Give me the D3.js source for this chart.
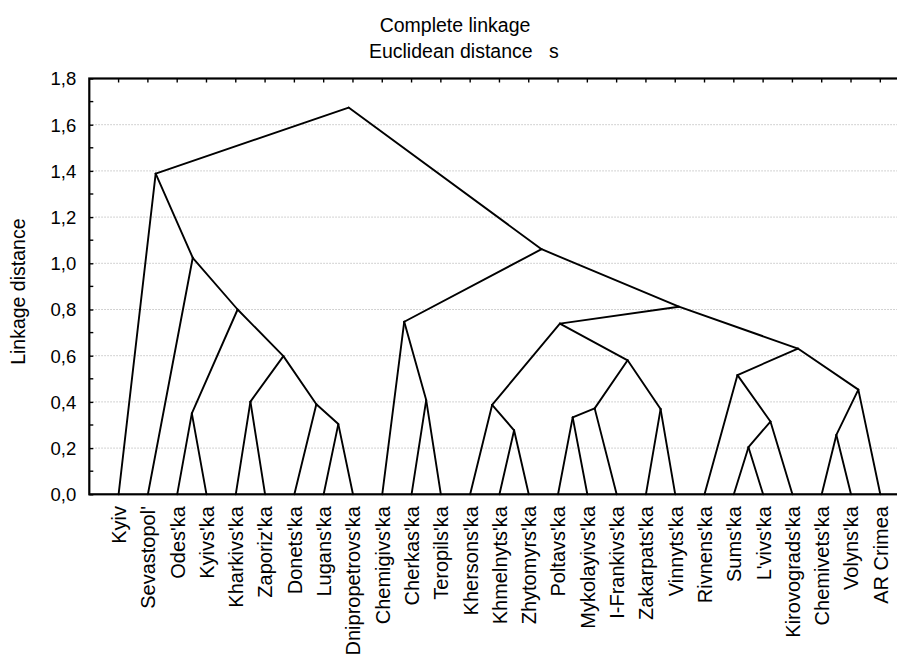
<!DOCTYPE html>
<html>
<head>
<meta charset="utf-8">
<script src="https://cdn.jsdelivr.net/npm/d3@7"></script>
<style>
    body { margin: 0; background: #fff; }
    svg { display: block; }
    text { font-family: "Liberation Sans", Arial, sans-serif; fill: #000; }
</style>
</head>
<body>
<div id="chart"></div>
<script>
/*global d3*/

// leaf order as drawn, left to right
const leaves = [
    "Kyiv", "Sevastopol'", "Odes'ka", "Kyivs'ka", "Kharkivs'ka", "Zaporiz'ka",
    "Donets'ka", "Lugans'ka", "Dnipropetrovs'ka", "Chemigivs'ka", "Cherkas'ka",
    "Teropils'ka", "Khersons'ka", "Khmelnyts'ka", "Zhytomyrs'ka", "Poltavs'ka",
    "Mykolayivs'ka", "I-Frankivs'ka", "Zakarpats'ka", "Vinnyts'ka", "Rivnens'ka",
    "Sums'ka", "L'vivs'ka", "Kirovograds'ka", "Chemivets'ka", "Volyns'ka", "AR Crimea"
];

// merges: [child a, child b, linkage distance]
// ids below 27 are leaves, 27 and up are earlier merges (27 = first row)
const merges = [
    [2, 3, 0.350],    // 27
    [4, 5, 0.401],    // 28
    [7, 8, 0.304],    // 29
    [6, 29, 0.390],   // 30
    [28, 30, 0.598],  // 31
    [27, 31, 0.800],  // 32
    [1, 32, 1.024],   // 33
    [0, 33, 1.388],   // 34
    [10, 11, 0.408],  // 35
    [9, 35, 0.747],   // 36
    [13, 14, 0.277],  // 37
    [12, 37, 0.387],  // 38
    [15, 16, 0.333],  // 39
    [39, 17, 0.372],  // 40
    [18, 19, 0.369],  // 41
    [40, 41, 0.580],  // 42
    [38, 42, 0.739],  // 43
    [21, 22, 0.204],  // 44
    [44, 23, 0.315],  // 45
    [20, 45, 0.516],  // 46
    [24, 25, 0.257],  // 47
    [47, 26, 0.453],  // 48
    [46, 48, 0.631],  // 49
    [43, 49, 0.812],  // 50
    [36, 50, 1.061],  // 51
    [34, 51, 1.674]   // 52
];

const yTicks = [0, 0.2, 0.4, 0.6, 0.8, 1.0, 1.2, 1.4, 1.6, 1.8];
const yMinor = [0.1, 0.3, 0.5, 0.7, 0.9, 1.1, 1.3, 1.5, 1.7];
const titleLines = ["Complete linkage", "Euclidean distance   s"];
const yTitle = "Linkage distance";


class Dendrogram {
    constructor(id) {
        this.id = id;
        this.init();
    }

    init() {
        this.initSvg();
        this.initScale();
        this.buildTree();
        this.drawGrid();
        this.drawLinks();
        this.drawAxes();
        this.drawTexts();
    }

    initSvg() {
        this.w = 897;
        this.h = 657;
        this.m = { left: 89.3, top: 78.5, bottom: 494.3, right: 909.6 };
        const div = d3.select(`#${this.id}`);
        div.selectAll("*").remove();
        this.svg = div.append("svg")
            .attr("width", this.w)
            .attr("height", this.h);
    }

    initScale() {
        // leaves sit at 1..n, one empty slot each side
        this.x = d3.scaleLinear()
            .domain([0, leaves.length + 1])
            .range([this.m.left, this.m.right]);
        this.y = d3.scaleLinear()
            .domain([0, 1.8])
            .range([this.m.bottom, this.m.top]);
    }

    buildTree() {
        this.nodes = leaves.map((name, i) => ({ name, pos: i + 1, h: 0 }));
        merges.forEach(([a, b, h]) => {
            const ca = this.nodes[a], cb = this.nodes[b];
            this.nodes.push({ pos: (ca.pos + cb.pos) / 2, h, children: [ca, cb] });
        });
        this.links = [];
        this.nodes.filter(d => d.children).forEach(d => {
            d.children.forEach(c => this.links.push({ source: d, target: c }));
        });
    }

    drawGrid() {
        this.svg.append("g")
            .selectAll("line")
            .data(yTicks.filter(t => t > 0 && t < 1.8))
            .join("line")
            .attr("x1", this.m.left)
            .attr("x2", this.m.right)
            .attr("y1", d => this.y(d))
            .attr("y2", d => this.y(d))
            .attr("stroke", "#c4c4c4")
            .attr("stroke-width", 1)
            .attr("stroke-dasharray", "1.5,1.5");
    }

    drawLinks() {
        this.svg.append("g")
            .selectAll("line")
            .data(this.links)
            .join("line")
            .attr("x1", d => this.x(d.source.pos))
            .attr("y1", d => this.y(d.source.h))
            .attr("x2", d => this.x(d.target.pos))
            .attr("y2", d => this.y(d.target.h))
            .attr("stroke", "#000")
            .attr("stroke-width", 1.9)
            .attr("stroke-linecap", "round");
    }

    drawAxes() {
        const fmt = d => d3.format(".1f")(d).replace(".", ",");

        // left axis, ticks pointing inward
        const yAxis = this.svg.append("g")
            .attr("transform", `translate(${this.m.left},0)`)
            .call(d3.axisLeft(this.y).tickValues(yTicks).tickFormat(fmt).tickSize(-4).tickPadding(13));
        yAxis.select(".domain").remove();
        yAxis.selectAll("line").attr("stroke", "#000").attr("stroke-width", 1.4);
        yAxis.selectAll("text")
            .style("font-size", "18.5px")
            .attr("font-family", null)
            .attr("dy", "0.35em");

        this.svg.append("g")
            .selectAll("line")
            .data(yMinor)
            .join("line")
            .attr("x1", this.m.left)
            .attr("x2", this.m.left + 4)
            .attr("y1", d => this.y(d))
            .attr("y2", d => this.y(d))
            .attr("stroke", "#000")
            .attr("stroke-width", 1.4);

        // top ticks at each leaf
        this.svg.append("g")
            .selectAll("line")
            .data(leaves)
            .join("line")
            .attr("x1", (d, i) => this.x(i + 1))
            .attr("x2", (d, i) => this.x(i + 1))
            .attr("y1", this.m.top)
            .attr("y2", this.m.top + 4)
            .attr("stroke", "#000")
            .attr("stroke-width", 1.4);

        // frame
        this.svg.append("rect")
            .attr("x", this.m.left)
            .attr("y", this.m.top)
            .attr("width", this.m.right - this.m.left)
            .attr("height", this.m.bottom - this.m.top)
            .attr("fill", "none")
            .attr("stroke", "#000")
            .attr("stroke-width", 2.2);

        // leaf labels
        this.svg.append("g")
            .selectAll("text")
            .data(leaves)
            .join("text")
            .attr("transform", (d, i) => `translate(${this.x(i + 1)},506) rotate(-90)`)
            .attr("text-anchor", "end")
            .attr("dy", "0.37em")
            .style("font-size", "20px")
            .text(d => d);
    }

    drawTexts() {
        this.svg.append("text")
            .attr("x", 455)
            .attr("y", 31.7)
            .attr("text-anchor", "middle")
            .style("font-size", "19.5px")
            .text(titleLines[0]);

        this.svg.append("text")
            .attr("x", 463.8)
            .attr("y", 58.3)
            .attr("text-anchor", "middle")
            .style("font-size", "19.5px")
            .style("white-space", "pre")
            .text(titleLines[1]);

        this.svg.append("text")
            .attr("transform", "translate(25,291.7) rotate(-90)")
            .attr("text-anchor", "middle")
            .style("font-size", "19.5px")
            .text(yTitle);
    }
}

new Dendrogram("chart");
</script>
</body>
</html>
